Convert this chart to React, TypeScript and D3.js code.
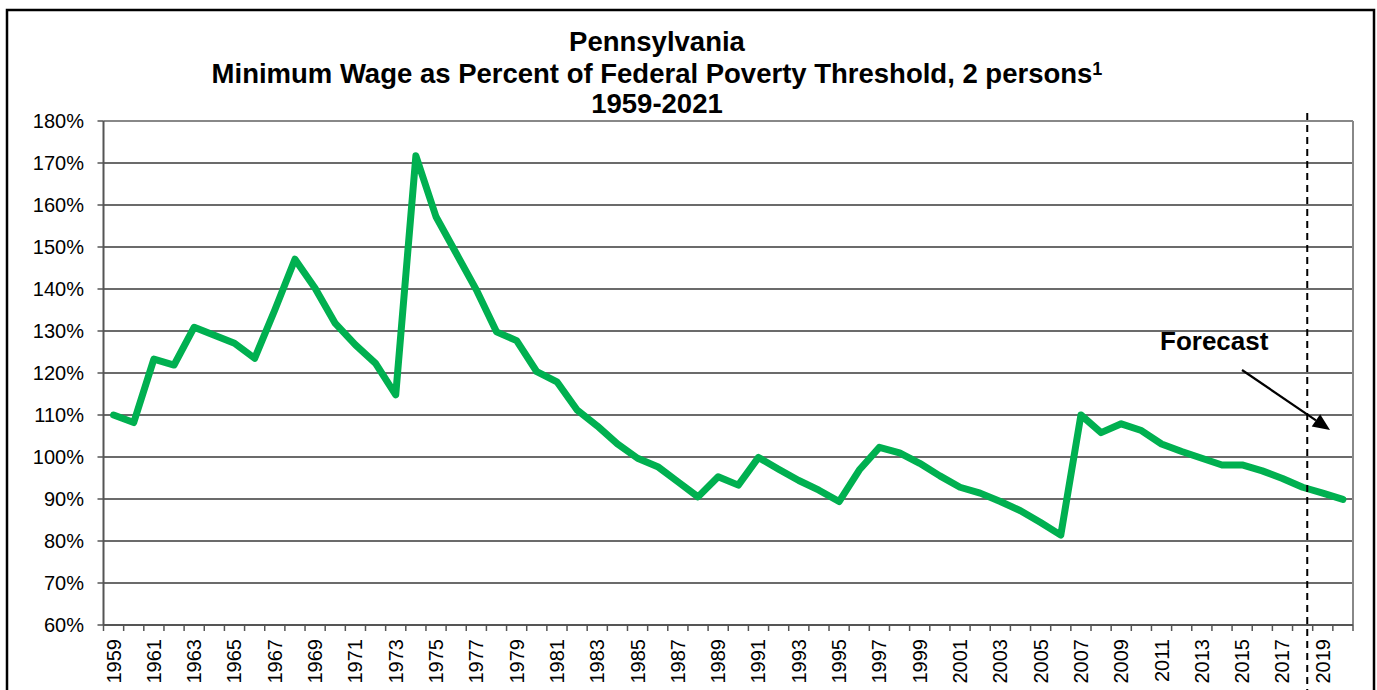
import React from "react";
import * as d3 from "d3";

const years: number[] = d3.range(1959, 2021);
const values: number[] = [
  110.0, 108.2, 123.3, 121.9, 130.9, 129.0, 127.1, 123.5, 135.0, 147.1,
  140.2, 131.8, 126.7, 122.3, 114.8, 171.7, 157.2, 148.5, 139.8, 129.8,
  127.7, 120.3, 117.9, 111.2, 107.4, 103.1, 99.7, 97.7, 94.1, 90.5,
  95.3, 93.3, 99.9, 97.1, 94.4, 92.1, 89.4, 96.9, 102.3, 101.0,
  98.5, 95.5, 92.8, 91.4, 89.4, 87.2, 84.4, 81.4, 110.0, 105.8,
  107.9, 106.3, 103.1, 101.3, 99.7, 98.1, 98.1, 96.7, 94.9, 92.8,
  91.4, 89.9,
];
const yTicks: number[] = [60, 70, 80, 90, 100, 110, 120, 130, 140, 150, 160, 170, 180];
const xLabelYears: number[] = years.filter((y) => (y - 1959) % 2 === 0);
const titleLines: string[] = [
  "Pennsylvania",
  "Minimum Wage as Percent of Federal Poverty Threshold, 2 persons",
  "1959-2021",
];
const forecastYear = 2018;

const W = 1377;
const H = 690;
const left = 103.5;
const right = 1353;
const top = 121;
const bottom = 625;
const FONT = "'Liberation Sans', Arial, Helvetica, sans-serif";

export default function App() {
  const x = d3.scaleBand<number>().domain(years).range([left, right]).paddingInner(0).paddingOuter(0);
  const step = x.step();
  const cx = (yr: number) => (x(yr) as number) + step / 2;
  const y = d3.scaleLinear().domain([60, 180]).range([bottom, top]);

  const line = d3
    .line<number>()
    .x((_, i) => cx(years[i]))
    .y((d) => y(d));

  const boundaries = d3.range(0, years.length + 1).map((i) => left + i * step);
  const fx = cx(forecastYear) + step * 0.23;

  // arrow geometry
  const ax1 = 1242, ay1 = 370, ax2 = 1330, ay2 = 430;
  const ang = Math.atan2(ay2 - ay1, ax2 - ax1);
  const hl = 17, hw = 7.5;
  const bx = ax2 - hl * Math.cos(ang);
  const by = ay2 - hl * Math.sin(ang);
  const px = -Math.sin(ang) * hw;
  const py = Math.cos(ang) * hw;
  const head = `M${ax2},${ay2} L${bx + px},${by + py} L${bx - px},${by - py} Z`;

  return (
    <svg
      width={W}
      height={H}
      style={{ position: "absolute", left: 0, top: 0, background: "#fff" }}
      fontFamily={FONT}
    >
      <rect x={0} y={0} width={W} height={H} fill="#fff" />
      {/* outer frame */}
      <rect x={7} y={10} width={1367} height={700} fill="none" stroke="#000" strokeWidth={2.5} />

      {/* title */}
      <text x={657} y={51} textAnchor="middle" fontSize={27.5} fontWeight="bold" fill="#000">
        {titleLines[0]}
      </text>
      <text x={657} y={83} textAnchor="middle" fontSize={27.5} fontWeight="bold" fill="#000">
        {titleLines[1]}
        <tspan fontSize={18} dy={-8}>1</tspan>
      </text>
      <text x={657} y={113} textAnchor="middle" fontSize={27.5} fontWeight="bold" fill="#000">
        {titleLines[2]}
      </text>

      {/* gridlines */}
      {yTicks.map((t) => (
        <line
          key={"g" + t}
          x1={left}
          x2={right}
          y1={y(t)}
          y2={y(t)}
          stroke={t === 180 ? "#888" : "#3a3a3a"}
          strokeWidth={t === 180 ? 2 : 1.3}
        />
      ))}
      {/* right border */}
      <line x1={right} x2={right} y1={top} y2={bottom} stroke="#888" strokeWidth={2} />

      {/* y axis */}
      <line x1={left} x2={left} y1={top} y2={bottom} stroke="#555" strokeWidth={2} />
      {yTicks.map((t) => (
        <g key={"yt" + t}>
          <line x1={left - 6} x2={left} y1={y(t)} y2={y(t)} stroke="#555" strokeWidth={1.5} />
          <text x={84} y={y(t)} dy="0.35em" textAnchor="end" fontSize={20} fill="#000">
            {t}%
          </text>
        </g>
      ))}

      {/* x axis */}
      <line x1={left} x2={right} y1={bottom} y2={bottom} stroke="#555" strokeWidth={2} />
      {boundaries.map((b, i) => (
        <line key={"xt" + i} x1={b} x2={b} y1={bottom} y2={bottom + 6} stroke="#555" strokeWidth={1.5} />
      ))}
      {xLabelYears.map((yr) => (
        <text
          key={"xl" + yr}
          transform={`translate(${cx(yr)},${bottom + 14}) rotate(-90)`}
          dy="0.35em"
          textAnchor="end"
          fontSize={20}
          fill="#000"
        >
          {yr}
        </text>
      ))}

      {/* data line */}
      <path
        d={line(values) || ""}
        fill="none"
        stroke="#00B050"
        strokeWidth={7}
        strokeLinejoin="round"
        strokeLinecap="round"
      />

      {/* forecast dashed line */}
      <line x1={fx} x2={fx} y1={113} y2={H} stroke="#000" strokeWidth={2} strokeDasharray="7,5" />

      {/* forecast annotation */}
      <text x={1160} y={350} fontSize={26} fontWeight="bold" fill="#000">
        Forecast
      </text>
      <line x1={ax1} y1={ay1} x2={bx} y2={by} stroke="#000" strokeWidth={2.2} />
      <path d={head} fill="#000" />
    </svg>
  );
}
